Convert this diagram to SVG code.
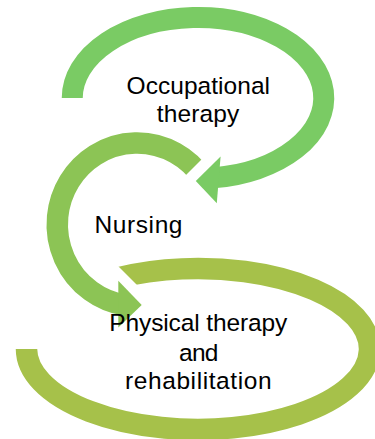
<svg xmlns="http://www.w3.org/2000/svg" width="375" height="439" viewBox="0 0 375 439">
<style>
.ring{fill:none;stroke-linecap:butt}
.c1{stroke:#7ACB64}.f1{fill:#7ACB64}
.c2{stroke:#8CC455}.f2{fill:#8CC455}
.c3{stroke:#A6C14A}.f3{fill:#A6C14A}
.lbl{font-family:"Liberation Sans",Arial,sans-serif;font-size:24.5px;fill:#000;text-anchor:middle}
</style>
<defs>
<clipPath id="clip2"><path clip-rule="evenodd" d="M0,0H375V439H0Z M231,130 L270,130 L270,210 L151,210 Z"/></clipPath>
<clipPath id="clip3"><path clip-rule="evenodd" d="M0,0H375V439H0Z M92,240 L40,240 L40,300 L152,300 Z"/></clipPath>
</defs>
<g id="connectors"></g>
<g id="node-nursing">
<path class="ring c2" stroke-width="21.5" clip-path="url(#clip2)" d="M202.33,177.75 A79.75,81.5 0 1 0 124.52,305"/>
<polygon class="f2" points="141.7,305 118.3,280.7 118.3,327.6"/>
<text class="lbl" x="138.5" y="233.3" textLength="88">Nursing</text>
</g>
<g id="node-occupational">
<path class="ring c1" stroke-width="21" d="M72.25,98 A125.75,80.5 0 1 1 213.33,177.9"/>
<polygon class="f1" points="195.8,181 220.6,156.5 216.8,203.2"/>
<text class="lbl" x="198.3" y="94.3" textLength="143.5">Occupational</text>
<text class="lbl" x="198" y="122" textLength="82.6">therapy</text>
</g>
<g id="node-physical">
<path class="ring c3" stroke-width="21.5" clip-path="url(#clip3)" d="M26.5,349 A171.5,80.5 0 1 0 99.63,283"/>
<text class="lbl" x="198.3" y="331" textLength="178">Physical therapy</text>
<text class="lbl" x="198.7" y="360.5" textLength="39.3">and</text>
<text class="lbl" x="198.3" y="389.3" textLength="146.7">rehabilitation</text>
</g>
</svg>
